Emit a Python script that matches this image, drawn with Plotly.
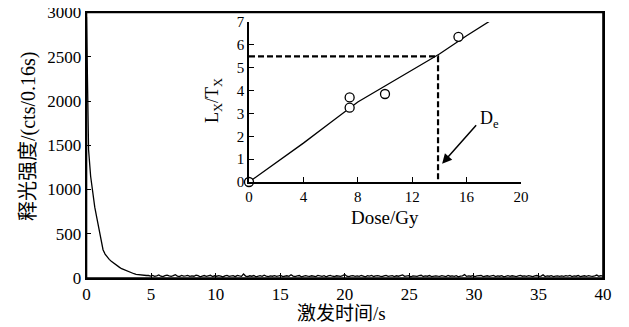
import plotly.graph_objects as go

# ---- main decay curve (channel width 0.16 s) ----
channel_s = 0.16
counts = [2950, 1450, 1150, 950, 800, 680, 560, 430, 320, 270,
          235, 210, 190, 170, 150, 135, 120, 105, 95, 85,
          75, 62, 55, 48, 42, 38, 35, 32, 30, 28,
          28, 22, 30, 18, 25, 35, 20, 15, 27, 32, 24, 19, 26, 38, 22, 17, 29, 21, 25, 30,
          18, 24, 20, 33, 26, 14, 22, 28, 19, 23, 31, 16, 25, 20, 27, 22, 12, 24, 29, 18,
          21, 26, 15, 30, 23, 19, 45, 22, 17, 25, 20, 28, 14, 23, 26, 19, 31, 22, 16, 24,
          20, 27, 18, 23, 29, 15, 22, 25, 19, 36, 21, 17, 24, 28, 13, 22, 26, 20, 18, 25,
          23, 16, 29, 21, 19, 26, 14, 24, 30, 20, 17, 25, 22, 18, 27, 40, 21, 15, 23, 26,
          19, 24, 18, 28, 22, 13, 25, 21, 30, 17, 23, 26, 20, 15, 24, 29, 18, 22, 27, 16,
          25, 20, 23, 34, 18, 21, 27, 14, 24, 22, 19, 26, 31, 17, 23, 20, 28, 15, 22, 25,
          21, 18, 26, 23, 16, 29, 20, 24, 19, 27, 14, 22, 25, 38, 18, 23, 20, 26, 17, 24,
          22, 28, 15, 21, 25, 19, 23, 30, 17, 24, 20, 26, 13, 22, 27, 18, 25, 21, 16, 23,
          29, 20, 24, 18, 26, 22, 15, 23, 28, 19, 21, 35, 17, 24, 20, 27, 16, 22, 25, 18,
          23, 19, 26, 21, 30, 17, 24, 20, 28, 15, 22, 25, 19, 27, 21, 18, 24, 33, 20, 26,
          22]
times = [i * channel_s for i in range(len(counts))]

main_xticks = [0, 5, 10, 15, 20, 25, 30, 35, 40]
main_yticks = [0, 500, 1000, 1500, 2000, 2500, 3000]

# ---- inset: dose response ----
dose_pts = [0, 7.4, 7.4, 10.0, 15.4]
ratio_pts = [0, 3.25, 3.7, 3.85, 6.35]
fit_dose = [0, 2, 4, 6, 8, 10, 12, 14, 16, 18]
fit_ratio = [0, 0.85, 1.7, 2.6, 3.5, 4.2, 4.9, 5.6, 6.4, 7.15]
de_dose = 13.9
de_ratio = 5.5
inset_xticks = [0, 4, 8, 12, 16, 20]
inset_yticks = [0, 1, 2, 3, 4, 5, 6, 7]

SERIF = "Liberation Serif, Noto Sans CJK SC"

# page has an 8px body margin; positions below are window pixels
OFF = 8
W, H = 629 - OFF, 327 - OFF


def px(p):
    return (p - OFF) / W


def py(p):
    return 1 - (p - OFF) / H


MX0, MX1 = px(86.5), px(603)
MY0, MY1 = py(278), py(12.5)

fig = go.Figure()
fig.add_trace(go.Scatter(x=times, y=counts, mode="lines",
                         line=dict(color="black", width=1.3), showlegend=False))

fig.add_trace(go.Scatter(x=fit_dose, y=fit_ratio, mode="lines", xaxis="x2", yaxis="y2",
                         line=dict(color="black", width=1.3), showlegend=False))
fig.add_trace(go.Scatter(x=[0, de_dose, de_dose], y=[de_ratio, de_ratio, 0], mode="lines",
                         xaxis="x2", yaxis="y2",
                         line=dict(color="black", width=2.2, dash="6px,3px"),
                         showlegend=False))
fig.add_trace(go.Scatter(x=dose_pts, y=ratio_pts, mode="markers", xaxis="x2", yaxis="y2",
                         cliponaxis=False,
                         marker=dict(symbol="circle", size=9, color="white",
                                     line=dict(color="black", width=1.3)),
                         showlegend=False))

axis_common = dict(showline=True, linecolor="black", linewidth=1.5, ticks="inside",
                   tickcolor="black", ticklen=5, showgrid=False, zeroline=False,
                   automargin=False, ticklabeloverflow="allow",
                   tickfont=dict(family=SERIF, size=17, color="black"))

fig.update_layout(
    width=W, height=H,
    margin=dict(l=0, r=0, t=0, b=0, autoexpand=False),
    paper_bgcolor="white", plot_bgcolor="white",
    xaxis=dict(domain=[MX0, MX1], range=[0, 40], tickvals=main_xticks,
               mirror=True, anchor="y", **axis_common),
    yaxis=dict(domain=[MY0, MY1], range=[0, 3000], tickvals=main_yticks,
               mirror=True, anchor="x", **axis_common),
    xaxis2=dict(domain=[px(249), px(521)], range=[0, 20], tickvals=inset_xticks,
                anchor="y2", **axis_common),
    yaxis2=dict(domain=[py(182), py(22)], range=[0, 7], tickvals=inset_yticks,
                anchor="x2", **axis_common),
)
fig.update_layout(xaxis2_tickfont_size=15, yaxis2_tickfont_size=15)

fig.add_shape(type="rect", xref="paper", yref="paper", x0=MX0, x1=MX1, y0=MY0, y1=MY1,
              line=dict(color="black", width=1.6), layer="above")

ann_font = dict(family=SERIF, color="black")
fig.add_annotation(text="释光强度/(cts/0.16s)", xref="paper", yref="paper",
                   x=px(28), y=py(137), textangle=-90, showarrow=False,
                   xanchor="center", yanchor="middle", font=dict(size=20, **ann_font))
fig.add_annotation(text="激发时间/s", xref="paper", yref="paper",
                   x=px(342), y=py(313), showarrow=False,
                   xanchor="center", yanchor="middle", font=dict(size=19, **ann_font))
fig.add_annotation(text="L<sub>X</sub>/T<sub>X</sub>", xref="paper", yref="paper",
                   x=px(214), y=py(100), textangle=-90, showarrow=False,
                   xanchor="center", yanchor="middle", font=dict(size=18, **ann_font))
fig.add_annotation(text="Dose/Gy", xref="paper", yref="paper",
                   x=px(385), y=py(217), showarrow=False,
                   xanchor="center", yanchor="middle", font=dict(size=19, **ann_font))
fig.add_annotation(x=14.2, y=0.8, ax=16.8, ay=2.55, xref="x2", yref="y2",
                   axref="x2", ayref="y2", text="", showarrow=True,
                   arrowhead=2, arrowsize=1.3, arrowwidth=1.5, arrowcolor="black")
fig.add_annotation(text="D<sub>e</sub>", x=17.7, y=2.75, xref="x2", yref="y2",
                   showarrow=False, xanchor="center", yanchor="middle",
                   font=dict(size=18, **ann_font))

fig.write_html("out.html")
